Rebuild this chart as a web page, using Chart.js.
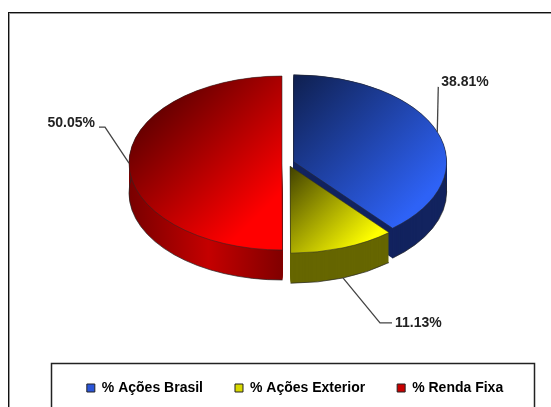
<!DOCTYPE html>
<html>
<head>
<meta charset="utf-8">
<style>
html,body{margin:0;padding:0;background:#fff;overflow:hidden}
canvas{display:block}
</style>
<script src="https://cdn.jsdelivr.net/npm/chart.js@4"></script>
</head>
<body>
<canvas id="chart" width="551" height="407"></canvas>
<script>
const categories = ['% Ações Brasil', '% Ações Exterior', '% Renda Fixa'];
const values = [38.81, 11.13, 50.05];
const legendColors = ['#2a55d8', '#d8d800', '#c80000'];
const sideColors = ['#12235f', '#666600', '#a00000'];

const PIE_X = 288, PIE_Y = 163, RADIUS = 153;
const EXPLODE = 6;
const SQUASH = 87 / 153; // ellipse height / width of the tilted pie
const DEPTH = 30;
const FONT_FAMILY = '"Liberation Sans", Arial, sans-serif';

// gradients run diagonally on screen, so the vectors are corrected for the squash
function topGradient(c, i){
    const cx = PIE_X, cy = PIE_Y, r = RADIUS;
    let g;
    if(i === 0){
        g = c.createLinearGradient(cx, cy - r, cx + 195, cy - r + 111);
        g.addColorStop(0, '#0e1e4c');
        g.addColorStop(1, '#2e62f6');
    } else if(i === 1){
        g = c.createLinearGradient(cx, cy, cx + 120, cy + 68);
        g.addColorStop(0, '#3a3a00');
        g.addColorStop(1, '#ffff00');
    } else {
        g = c.createLinearGradient(cx - r, cy - 70, cx + 10, cy + 23);
        g.addColorStop(0, '#600000');
        g.addColorStop(1, '#ff0000');
    }
    return g;
}

function sideFill(c, i){
    if(i !== 2) return sideColors[i];
    const g = c.createLinearGradient(PIE_X - RADIUS - 6, 0, PIE_X, 0);
    g.addColorStop(0, '#780000');
    g.addColorStop(0.5, '#c40000');
    g.addColorStop(1, '#7c0000');
    return g;
}

function tilt(c, dy){
    c.translate(0, PIE_Y + dy);
    c.scale(1, SQUASH);
    c.translate(0, -PIE_Y);
}

// tilts the pie and extrudes each slice downwards
const tiltPlugin = {
    id: 'tilt',
    afterDatasetsUpdate(chart){
        chart.getDatasetMeta(0).data.forEach(arc => {
            const mid = (arc.startAngle + arc.endAngle) / 2;
            arc.x = PIE_X + Math.cos(mid) * EXPLODE;
            arc.y = PIE_Y + Math.sin(mid) * EXPLODE;
        });
    },
    beforeDatasetsDraw(chart){
        const c = chart.ctx;
        const arcs = chart.getDatasetMeta(0).data;
        [0, 2, 1].forEach(i => {
            const arc = arcs[i];
            c.fillStyle = sideFill(c, i);
            for(let d = DEPTH; d >= 0; d--){
                c.save();
                tilt(c, d);
                c.beginPath();
                c.moveTo(arc.x, arc.y);
                c.arc(arc.x, arc.y, arc.outerRadius, arc.startAngle, arc.endAngle);
                c.closePath();
                c.fill();
                c.restore();
            }
            c.save();
            tilt(c, DEPTH);
            c.beginPath();
            c.arc(arc.x, arc.y, arc.outerRadius, arc.startAngle, arc.endAngle);
            c.restore();
            c.strokeStyle = 'rgba(40,40,40,0.7)';
            c.lineWidth = 1;
            c.stroke();
        });
        c.save();
        tilt(c, 0);
    },
    afterDatasetsDraw(chart){
        chart.ctx.restore();
    }
};

// frame, legend box, leader lines and value labels
const decorPlugin = {
    id: 'decor',
    beforeDraw(chart){
        const c = chart.ctx;
        c.save();
        c.fillStyle = '#fff';
        c.fillRect(0, 0, chart.width, chart.height);
        c.lineWidth = 1;
        c.strokeStyle = '#999';
        c.strokeRect(9.5, 13.5, 560, 420);
        c.strokeStyle = '#111';
        c.strokeRect(8.5, 12.5, 560, 420);
        c.lineWidth = 1.5;
        c.strokeStyle = '#222';
        c.strokeRect(51.5, 363.5, 483, 60);
        c.restore();
    },
    afterDraw(chart){
        const c = chart.ctx;
        const arcs = chart.getDatasetMeta(0).data;
        // same order as the data: elbow dx, elbow dy, horizontal run, text align, text gap, text dy
        const leaders = [[1, -45, 0, 'left', 3, -5], [37, 45, 12, 'left', 3, 0], [-24, -36, -6, 'right', -4, -4]];
        c.save();
        c.font = 'bold 14px ' + FONT_FAMILY;
        c.textBaseline = 'middle';
        arcs.forEach((arc, i) => {
            const mid = (arc.startAngle + arc.endAngle) / 2;
            const x = arc.x + Math.cos(mid) * arc.outerRadius;
            let y = PIE_Y + (arc.y - PIE_Y + Math.sin(mid) * arc.outerRadius) * SQUASH;
            if(Math.sin(mid) > 0.5) y += DEPTH;
            const [ex, ey, run, align, gap, ty] = leaders[i];
            c.strokeStyle = '#444';
            c.lineWidth = 1.3;
            c.beginPath();
            c.moveTo(x, y);
            c.lineTo(x + ex, y + ey);
            c.lineTo(x + ex + run, y + ey);
            c.stroke();
            c.fillStyle = '#222';
            c.textAlign = align;
            c.fillText(values[i].toFixed(2) + '%', x + ex + run + gap, y + ey + ty);
        });
        c.restore();
    }
};

new Chart(document.getElementById('chart'), {
    type: 'pie',
    data: {
        labels: categories,
        datasets: [{
            data: values,
            clip: false,
            radius: RADIUS,
            borderWidth: 1,
            borderColor: 'rgba(40,40,40,0.7)',
            backgroundColor: ctx => topGradient(ctx.chart.ctx, ctx.dataIndex)
        }]
    },
    plugins: [decorPlugin, tiltPlugin],
    options: {
        responsive: false,
        animation: false,
        layout: { padding: { left: 39, right: 0, top: 0, bottom: 2 } },
        plugins: {
            tooltip: { enabled: false },
            legend: {
                position: 'bottom',
                labels: {
                    boxWidth: 8,
                    boxHeight: 8,
                    padding: 32,
                    color: '#222',
                    font: { family: FONT_FAMILY, size: 14, weight: 'bold' },
                    generateLabels: () => categories.map((t, i) => ({
                        text: t,
                        fillStyle: legendColors[i],
                        strokeStyle: '#222',
                        lineWidth: 1,
                        index: i
                    }))
                }
            }
        }
    }
});
</script>
</body>
</html>
